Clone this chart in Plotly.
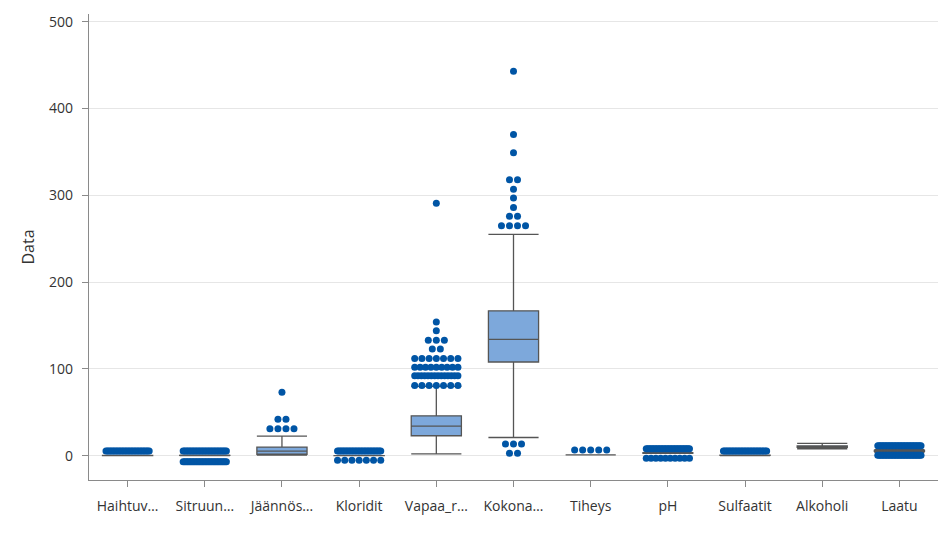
import plotly.graph_objects as go

# ---- data ----
labels = ["Haihtuv…", "Sitruun…", "Jäännös…", "Kloridit", "Vapaa_r…", "Kokona…",
          "Tiheys", "pH", "Sulfaatit", "Alkoholi", "Laatu"]
q1 = [0.21, 0.27, 1.7, 0.036, 23, 108, 0.992, 3.09, 0.41, 9.5, 5]
median = [0.26, 0.32, 5.2, 0.043, 34, 134, 0.994, 3.18, 0.47, 10.4, 6]
q3 = [0.32, 0.39, 9.9, 0.05, 46, 167, 0.996, 3.28, 0.55, 11.4, 6]
lower_whisker = [0.08, 0.0, 0.6, 0.015, 2, 21, 0.987, 2.8, 0.22, 8.0, 4]
upper_whisker = [0.48, 0.57, 22.6, 0.07, 80, 255, 1.002, 3.57, 0.76, 14.2, 7]

# outlier rows as displayed: (category index, row value, number of dots)
outlier_cat = [0, 1, 1, 2, 2, 2, 3, 3,
               4, 4, 4, 4, 4, 4, 4, 4, 4,
               5, 5, 5, 5, 5, 5, 5, 5, 5, 5, 5,
               6, 7, 7, 8, 10, 10]
outlier_val = [5.4, 5.4, -7, 31, 42, 73, 5.4, -5.3,
               81, 92, 102, 112, 123, 133, 144, 154, 291,
               2.8, 13.5, 265, 276, 286, 297, 307, 318, 349, 370, 443,
               6.5, 8, -3, 5.4, 11.5, 0.5]
outlier_cnt = [30, 30, 30, 4, 2, 1, 30, 7,
               7, 14, 9, 7, 2, 3, 1, 1, 1,
               2, 3, 4, 2, 1, 1, 1, 2, 1, 1, 1,
               5, 30, 10, 30, 30, 30]

# ---- styling ----
BOX_W = 0.65
DOT_STEP = 0.104
MAX_SPAN = 0.56
DOT_COLOR = "#0055A5"
FILL = "#7DA8DB"
EDGE = "#555555"
TXT = "#333333"
FONT = "Open Sans"

fig = go.Figure()
for i, lab in enumerate(labels):
    fig.add_trace(go.Box(
        x=[i], q1=[q1[i]], median=[median[i]], q3=[q3[i]],
        lowerfence=[lower_whisker[i]], upperfence=[upper_whisker[i]],
        width=BOX_W, whiskerwidth=1, boxpoints=False,
        fillcolor=FILL, line=dict(color=EDGE, width=1.3),
        showlegend=False, hoverinfo="skip"))

xs, ys = [], []
for c, v, n in zip(outlier_cat, outlier_val, outlier_cnt):
    span = min((n - 1) * DOT_STEP, MAX_SPAN)
    for k in range(n):
        off = 0 if n == 1 else -span / 2 + span * k / (n - 1)
        xs.append(c + off)
        ys.append(v)
fig.add_trace(go.Scatter(x=xs, y=ys, mode="markers",
                         marker=dict(color=DOT_COLOR, size=7, line=dict(width=0)),
                         showlegend=False, hoverinfo="skip"))

fig.update_layout(
    width=952, height=536,
    margin=dict(l=89, r=14, t=14, b=56),
    paper_bgcolor="white", plot_bgcolor="white",
    font=dict(family=FONT, size=14, color=TXT),
    xaxis=dict(
        range=[-0.5, 10.5], tickmode="array",
        tickvals=list(range(len(labels))), ticktext=labels,
        showgrid=False, zeroline=False,
        showline=True, linecolor="#8a8a8a", linewidth=1.2,
        ticks="outside", ticklen=6, tickcolor="#8a8a8a",
        ticklabelstandoff=7,
        tickfont=dict(size=14, color=TXT),
    ),
    yaxis=dict(
        range=[-28, 509], tickmode="array",
        tickvals=[0, 100, 200, 300, 400, 500],
        showgrid=True, gridcolor="#e6e6e6", gridwidth=1,
        zeroline=False,
        showline=True, linecolor="#8a8a8a", linewidth=1.2,
        ticks="outside", ticklen=6, tickcolor="#8a8a8a",
        ticklabelstandoff=6,
        tickfont=dict(size=14, color=TXT),
        title=dict(text="Data", font=dict(size=16, color=TXT), standoff=10),
    ),
)

fig.write_html("out.html")
